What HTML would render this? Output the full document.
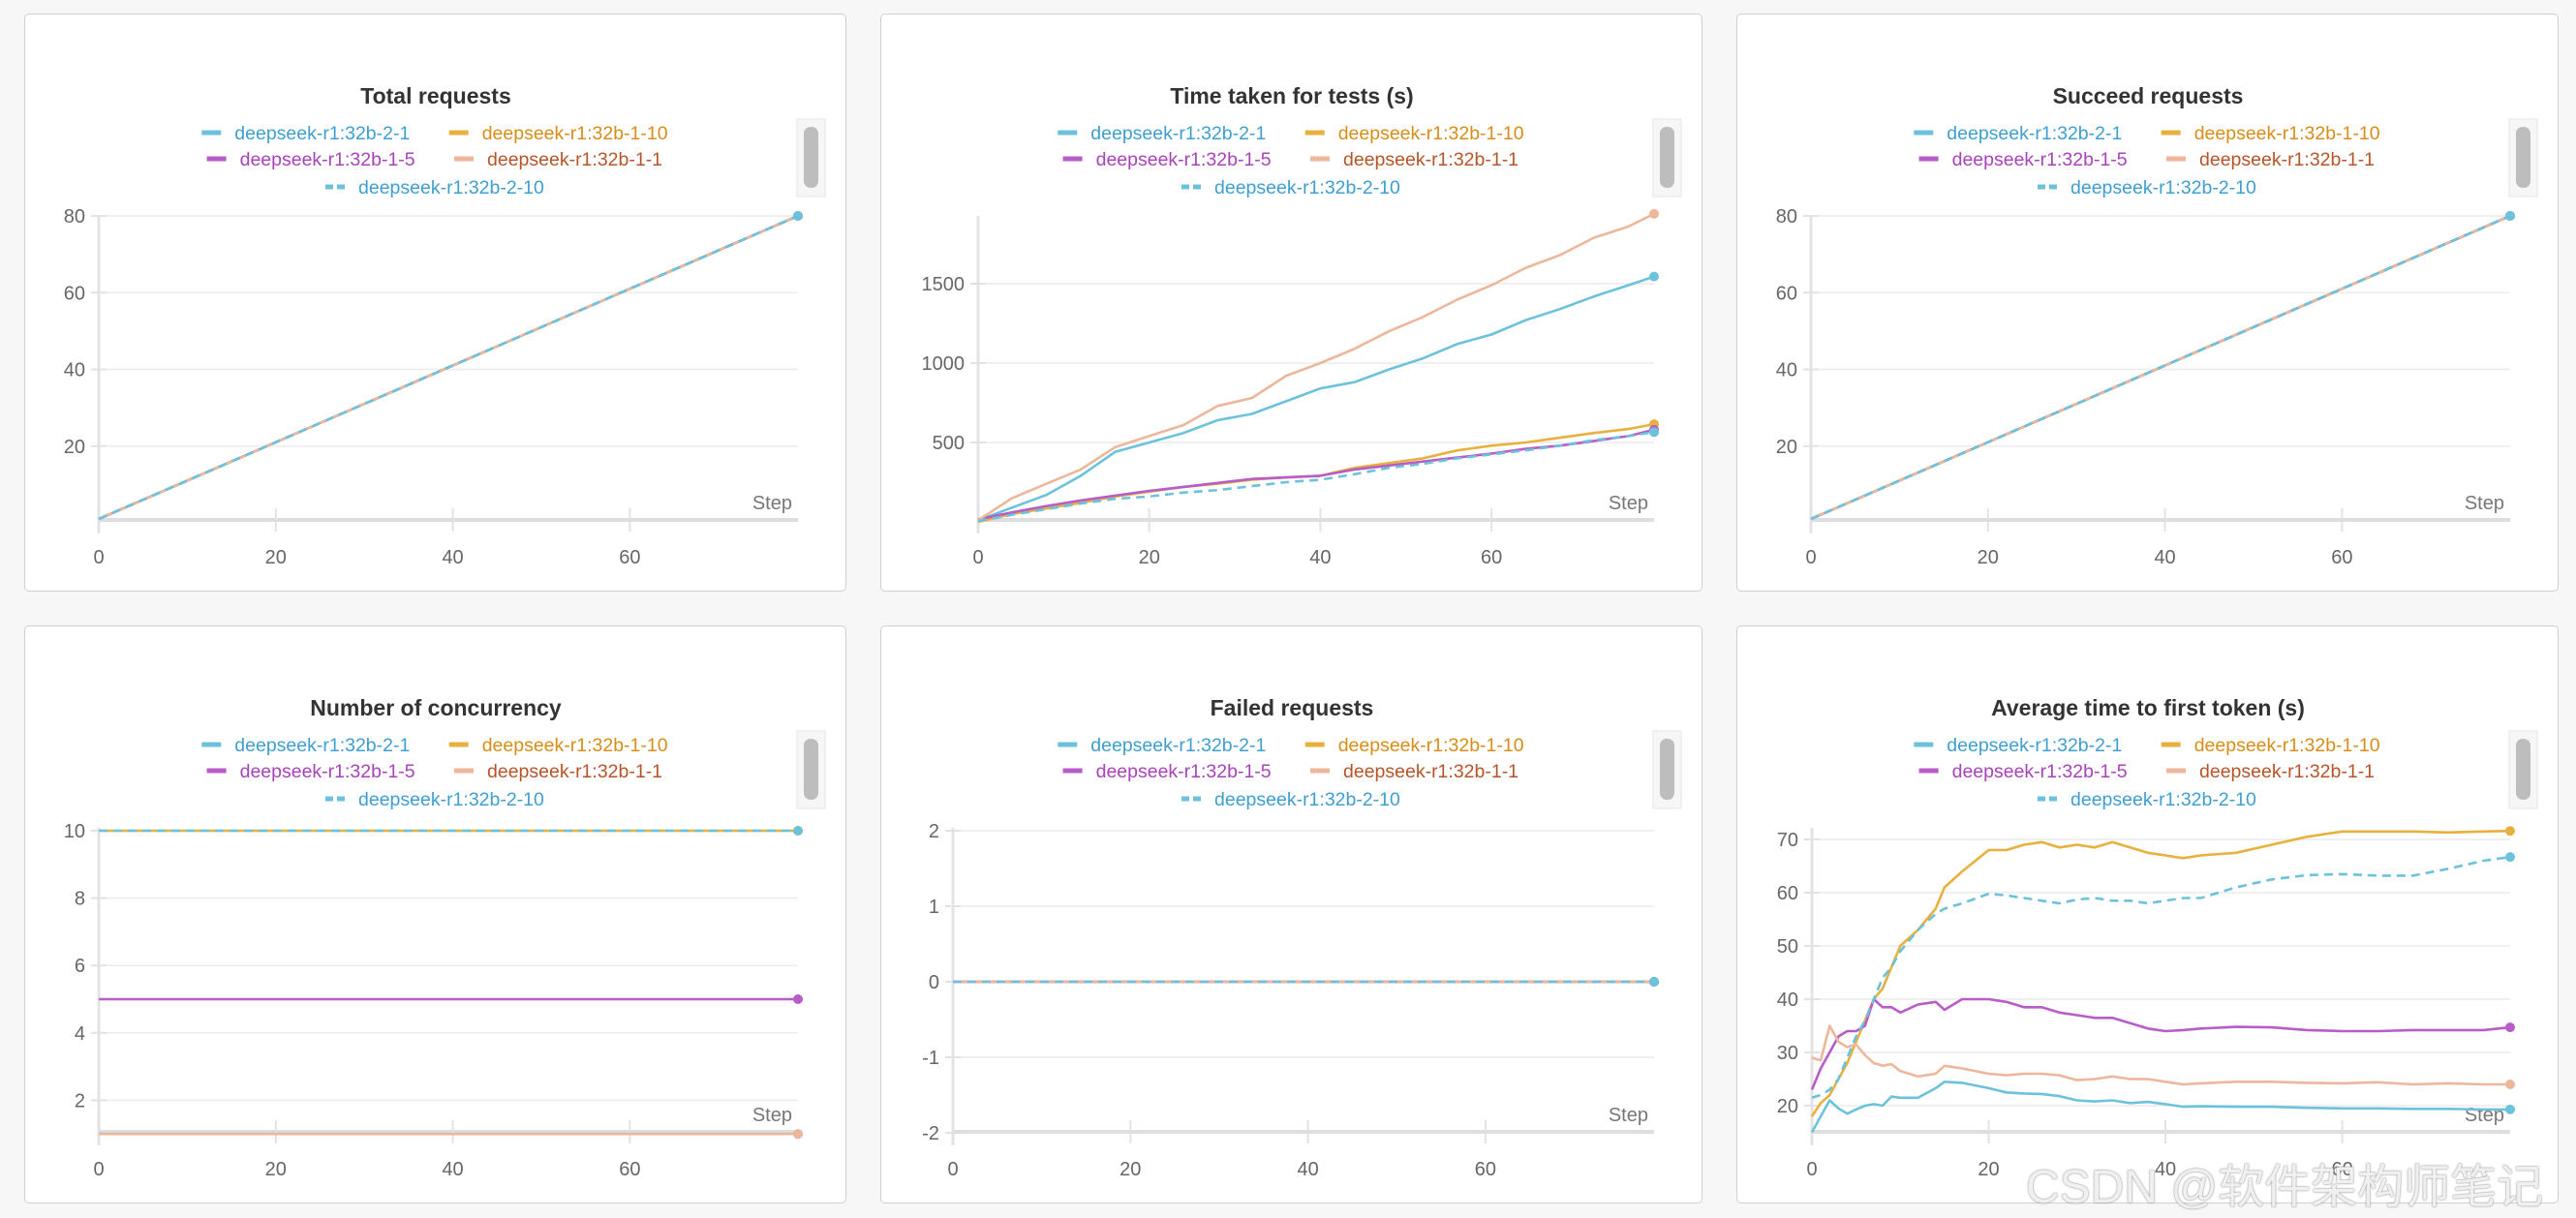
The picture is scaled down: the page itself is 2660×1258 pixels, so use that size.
<!DOCTYPE html>
<html><head><meta charset="utf-8">
<style>
body{margin:0;width:2660px;height:1258px;background:#f7f7f7;position:relative;overflow:hidden;font-family:"Liberation Sans","Noto Sans CJK SC",sans-serif}
.panel{position:absolute;width:847px;height:595px;background:#fff;border:1.5px solid #cfcfcf;border-radius:5px}
.panel svg{position:absolute;left:0;top:0}
.wm{position:absolute;left:2092px;top:1186px;font-size:48px;color:rgba(255,255,255,.85);text-shadow:0 0 2px #999,0 0 1px #888;white-space:nowrap;font-family:"Liberation Sans","Noto Sans CJK SC",sans-serif}
</style></head><body>
<div id="root"></div>
<div class="wm">CSDN @软件架构师笔记</div>
<script>
const seriesNames=["deepseek-r1:32b-2-1","deepseek-r1:32b-1-10","deepseek-r1:32b-1-5","deepseek-r1:32b-1-1","deepseek-r1:32b-2-10"];
const lineColors=["#6cc2da","#e8b03e","#b85cc8","#ecb79a","#6cc2da"];
const textColors=["#3e9fd0","#d88d18","#aa42bb","#b75528","#3e9fd0"];
const dashed=[false,false,false,false,true];

const xTicks=[0,20,40,60];
const lineSteps=[0,79];
const totalVals=[1,80];
const totalTicks=[20,40,60,80];

const concVals=[1,10,5,1,10];
const concTicks=[2,4,6,8,10];
const failedVal=0;
const failedTicks=[-2,-1,0,1,2];

const timeSteps=[0,4,8,12,16,20,24,28,32,36,40,44,48,52,56,60,64,68,72,76,79];
const time21=[10,90,170,290,440,500,560,640,680,760,840,880,960,1030,1120,1180,1270,1340,1420,1490,1545];
const time110=[0,50,85,120,160,190,220,240,265,280,290,340,370,400,450,480,500,530,560,585,615];
const time15=[15,60,100,135,165,195,220,245,270,280,290,330,355,380,405,430,460,480,510,540,580];
const time11=[10,150,240,330,470,540,610,730,780,920,1000,1090,1200,1290,1400,1490,1600,1680,1790,1860,1940];
const time210=[5,45,80,115,145,160,185,200,225,250,265,300,340,365,400,425,450,480,515,540,565];
const timeTicks=[500,1000,1500];

const ttftSteps=[0,1,2,3,4,5,6,7,8,9,10,12,14,15,17,20,22,24,26,28,30,32,34,36,38,40,42,44,48,52,56,60,64,68,72,76,79];
const ttft21=[15,18,21,19.5,18.5,19.3,20,20.3,20,21.7,21.5,21.5,23.3,24.5,24.3,23.3,22.5,22.3,22.2,21.8,21,20.8,21,20.5,20.7,20.3,19.8,19.9,19.8,19.8,19.6,19.5,19.5,19.4,19.4,19.3,19.3];
const ttft110=[18,20.5,22,25,28,32,36,40,42,46,50,53,57,61,64,68,68,69,69.5,68.5,69,68.5,69.5,68.5,67.5,67,66.5,67,67.5,69,70.5,71.5,71.5,71.5,71.3,71.5,71.6];
const ttft15=[23,27,30,33,34,34,35,40,38.5,38.5,37.5,39,39.5,38,40,40,39.5,38.5,38.5,37.5,37,36.5,36.5,35.5,34.5,34,34.2,34.5,34.8,34.7,34.2,34,34,34.2,34.2,34.2,34.7];
const ttft11=[29,28.5,35,32,31,31.5,29.5,28,27.5,27.8,26.5,25.5,26,27.5,27,26,25.7,26,26,25.7,24.8,25,25.5,25,25,24.5,24,24.2,24.5,24.5,24.3,24.2,24.4,24,24.2,24,24];
const ttft210=[21.5,22,23,25,29,33,36,40,44,46,49,53,56,57,58,59.8,59.5,59,58.5,58,58.7,59,58.5,58.5,58,58.5,59,59,61,62.5,63.3,63.5,63.2,63.2,64.5,66,66.7];
const ttftTicks=[20,30,40,50,60,70];

const NS="http://www.w3.org/2000/svg";
function mk(tag,attrs,parent){const e=document.createElementNS(NS,tag);for(const k in attrs)e.setAttribute(k,attrs[k]);if(parent)parent.appendChild(e);return e;}

const panels=[
 {name:"total-requests",title:"Total requests",L:25,T:14,x0:76,yd:[0,80],yr:[525,208],ticks:totalTicks,series:()=>seriesNames.map(()=>[lineSteps,totalVals])},
 {name:"time-taken",title:"Time taken for tests (s)",L:909,T:14,x0:100,yd:[0,1500],yr:[524,278],ticks:timeTicks,series:()=>[[timeSteps,time21],[timeSteps,time110],[timeSteps,time15],[timeSteps,time11],[timeSteps,time210]]},
 {name:"succeed-requests",title:"Succeed requests",L:1793,T:14,x0:76,yd:[0,80],yr:[525,208],ticks:totalTicks,series:()=>seriesNames.map(()=>[lineSteps,totalVals])},
 {name:"concurrency",title:"Number of concurrency",L:25,T:646,x0:76,yd:[0,10],yr:[559,211],ticks:concTicks,series:()=>concVals.map(v=>[lineSteps,[v,v]])},
 {name:"failed-requests",title:"Failed requests",L:909,T:646,x0:74,yd:[-2,2],yr:[523,211],ticks:failedTicks,series:()=>seriesNames.map(()=>[lineSteps,[failedVal,failedVal]])},
 {name:"ttft",title:"Average time to first token (s)",L:1793,T:646,x0:77,yd:[20,70],yr:[495,220],ticks:ttftTicks,series:()=>[[ttftSteps,ttft21],[ttftSteps,ttft110],[ttftSteps,ttft15],[ttftSteps,ttft11],[ttftSteps,ttft210]]}
];

const root=document.getElementById('root');
panels.forEach(p=>{
 const div=document.createElement('div');
 div.className='panel';
 div.style.left=p.L+'px';div.style.top=p.T+'px';
 
 
 root.appendChild(div);
 const svg=mk('svg',{width:849,height:597},div);
 const x1=798, axisY=522;
 const xs=s=>p.x0+(s-0)/79*(x1-p.x0);
 const ys=v=>p.yr[0]+(v-p.yd[0])/(p.yd[1]-p.yd[0])*(p.yr[1]-p.yr[0]);
 const t=mk('text',{x:424,y:92,'text-anchor':'middle','font-size':23,'font-weight':'bold',fill:'#333'},svg);
 t.textContent=p.title;
 
 
 const rows=[[0,1],[2,3],[4]];
 const rowY=[122,149,178];
 rows.forEach((r,ri)=>{
  const g=mk('g',{},svg);
  
  
  let widths=r.map(i=>seriesNames[i].length*10.6+36);
  let tot=widths.reduce((a,b)=>a+b,0)+(r.length-1)*18;
  let x=424-tot/2+10;
  r.forEach((i,k)=>{
   const it=mk('g',{},g);
   
   
   mk('line',{x1:x,y1:rowY[ri],x2:x+20,y2:rowY[ri],stroke:lineColors[i],'stroke-width':5,'stroke-dasharray':dashed[i]?'8,4':'none'},it);
   const tx=mk('text',{x:x+34,y:rowY[ri]+7,'font-size':19.5,fill:textColors[i]},it);
   tx.textContent=seriesNames[i];
   x+=widths[k]+18;
  });
 });
 const sb=mk('rect',{x:797,y:108,width:29,height:80,fill:'#f6f6f6',stroke:'#e6e6e6'},svg);
 
 
 mk('rect',{x:804,y:116,width:15,height:63,rx:7,fill:'#bdbdbd'},svg);
 p.ticks.forEach(v=>{
  const y=ys(v);
  mk('line',{x1:p.x0,y1:y,x2:x1,y2:y,stroke:'#ececec','stroke-width':1.5},svg);
  mk('line',{x1:p.x0-8,y1:y,x2:p.x0+8,y2:y,stroke:'#e2e2e2','stroke-width':2},svg);
  const tl=mk('text',{x:p.x0-14,y:y+7,'text-anchor':'end','font-size':20,fill:'#666'},svg);
  tl.textContent=v;
  
  
 });
 mk('line',{x1:p.x0,y1:208,x2:p.x0,y2:axisY+14,stroke:'#e3e3e3','stroke-width':3},svg);
 mk('line',{x1:p.x0,y1:axisY,x2:x1,y2:axisY,stroke:'#dedede','stroke-width':4},svg);
 xTicks.forEach(s=>{
  const x=xs(s);
  mk('line',{x1:x,y1:axisY-12,x2:x,y2:axisY+12,stroke:'#e2e2e2','stroke-width':2},svg);
  const tl=mk('text',{x:x,y:567,'text-anchor':'middle','font-size':20,fill:'#666'},svg);
  tl.textContent=s;
  
  
 });
 const st=mk('text',{x:x1-6,y:511,'text-anchor':'end','font-size':20,fill:'#777'},svg);
 st.textContent='Step';
 
 
 p.series().forEach((sd,i)=>{
  const [steps,vals]=sd;
  const d=steps.map((s,k)=>(k?'L':'M')+xs(s).toFixed(1)+','+ys(vals[k]).toFixed(1)).join(' ');
  const path=mk('path',{d:d,fill:'none',stroke:lineColors[i],'stroke-width':2.6,'stroke-linejoin':'round','stroke-dasharray':dashed[i]?'9,6':'none'},svg);
  
  
  const last=steps.length-1;
  mk('circle',{cx:xs(steps[last]),cy:ys(vals[last]),r:5,fill:lineColors[i]},svg);
 });
});
</script>
</body></html>
